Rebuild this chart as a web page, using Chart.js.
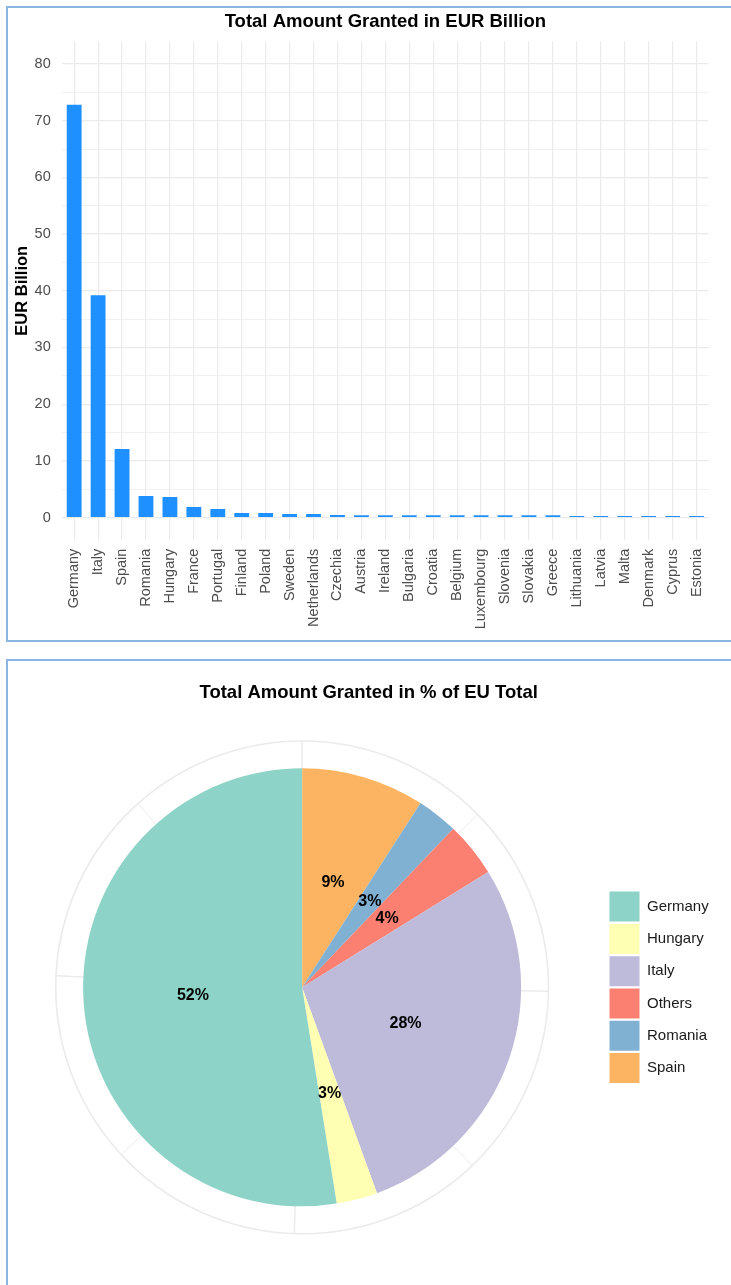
<!DOCTYPE html>
<html>
<head>
<meta charset="utf-8">
<script src="https://cdn.jsdelivr.net/npm/chart.js@4.4.1/dist/chart.umd.min.js"></script>
<style>
    html, body { margin: 0; padding: 0; overflow: hidden; background: #fff; }
    .panel {
        position: absolute;
        left: 6px;
        width: 760px;
        border: 2px solid #8db5e2;
        background: #fff;
        overflow: hidden;
    }
    #bar-panel { top: 6px; height: 632px; }
    #pie-panel { top: 659px; height: 700px; }
    canvas { position: absolute; top: 0; }
    #bar-chart { left: 0; }
    #pie-chart { left: -11px; }
</style>
</head>
<body>
<div class="panel" id="bar-panel"><canvas id="bar-chart" width="723" height="632"></canvas></div>
<div class="panel" id="pie-panel"><canvas id="pie-chart" width="744" height="640"></canvas></div>
<script>
// Amount granted per member state, EUR billion
const countries = ['Germany', 'Italy', 'Spain', 'Romania', 'Hungary', 'France', 'Portugal', 'Finland',
    'Poland', 'Sweden', 'Netherlands', 'Czechia', 'Austria', 'Ireland', 'Bulgaria', 'Croatia', 'Belgium',
    'Luxembourg', 'Slovenia', 'Slovakia', 'Greece', 'Lithuania', 'Latvia', 'Malta', 'Denmark', 'Cyprus', 'Estonia'];
const amounts = [72.8, 39.2, 12.1, 3.8, 3.6, 1.85, 1.5, 0.8, 0.8, 0.6, 0.6, 0.45, 0.4, 0.4, 0.4, 0.4, 0.4,
    0.4, 0.4, 0.4, 0.4, 0.25, 0.25, 0.25, 0.25, 0.25, 0.25];
const yTickLabels = [0, 10, 20, 30, 40, 50, 60, 70, 80];

// Share of EU total, % (slice order clockwise from the top)
const pieGroups = ['Spain', 'Romania', 'Others', 'Italy', 'Hungary', 'Germany'];
const pieShares = [9, 3, 4, 28, 3, 52];
const pieColors = ['#FDB462', '#80B1D3', '#FB8072', '#BEBADA', '#FFFFB3', '#8DD3C7'];

const FONT = "'Liberation Sans', Arial, Helvetica, sans-serif";
const GRID = '#ebebeb';
Chart.defaults.font.family = FONT;

// Bar chart
new Chart(document.getElementById('bar-chart').getContext('2d'), {
    type: 'bar',
    data: {
        labels: countries,
        datasets: [{
            data: amounts,
            backgroundColor: '#1E90FF',
            borderWidth: 0,
            categoryPercentage: 1,
            barPercentage: 0.62
        }]
    },
    options: {
        responsive: false,
        animation: false,
        layout: { padding: { left: 0, right: 22.5, top: 0, bottom: 0 } },
        plugins: {
            legend: { display: false },
            tooltip: { enabled: false },
            title: {
                display: true,
                text: 'Total Amount Granted in EUR Billion',
                fullSize: false,
                color: '#000',
                font: { size: 18.5, weight: 'bold' },
                padding: { top: 2.9, bottom: 8.2 }
            }
        },
        scales: {
            x: {
                offset: true,
                grid: { offset: false, color: GRID, lineWidth: 1.2, drawTicks: false },
                border: { display: false },
                ticks: {
                    autoSkip: false,
                    minRotation: 90,
                    maxRotation: 90,
                    padding: 8.5,
                    color: '#4d4d4d',
                    font: { size: 14.5 }
                },
                afterFit: scale => { scale.height = 99.8; }
            },
            y: {
                min: -4,
                max: 84,
                afterBuildTicks: scale => {
                    // major lines at the labelled values, minor lines halfway between
                    const lines = [];
                    yTickLabels.forEach((v, i) => {
                        lines.push({ value: v });
                        if (i < yTickLabels.length - 1) lines.push({ value: (v + yTickLabels[i + 1]) / 2 });
                    });
                    scale.ticks = lines;
                },
                grid: {
                    color: GRID,
                    drawTicks: false,
                    lineWidth: ctx => (yTickLabels.includes(ctx.tick && ctx.tick.value) ? 1.2 : 0.7)
                },
                border: { display: false },
                ticks: {
                    padding: 11.5,
                    color: '#4d4d4d',
                    font: { size: 14.5 },
                    callback: v => (yTickLabels.includes(v) ? String(v) : '')
                },
                title: {
                    display: true,
                    text: 'EUR Billion',
                    color: '#000',
                    font: { size: 16.5, weight: 'bold' },
                    padding: { top: 4.5, bottom: 0 }
                },
                afterFit: scale => { scale.width = 54.2; }
            }
        }
    }
});

// Polar grid behind the pie: outer ring plus radial lines every 12.5 units
const polarGrid = {
    id: 'polarGrid',
    beforeDatasetsDraw(chart) {
        const arc = chart.getDatasetMeta(0).data[0];
        if (!arc) return;
        const { x, y, outerRadius } = arc;
        const ring = outerRadius * 1.125;
        const total = pieShares.reduce((a, b) => a + b, 0);
        const ctx = chart.ctx;
        ctx.save();
        ctx.strokeStyle = GRID;
        for (let v = 0; v < total; v += 12.5) {
            const a = -Math.PI / 2 + (v / total) * Math.PI * 2;
            ctx.lineWidth = v % 25 === 0 ? 1.5 : 1;
            ctx.beginPath();
            ctx.moveTo(x, y);
            ctx.lineTo(x + Math.cos(a) * ring, y + Math.sin(a) * ring);
            ctx.stroke();
        }
        ctx.lineWidth = 1.6;
        ctx.beginPath();
        ctx.arc(x, y, ring, 0, Math.PI * 2);
        ctx.stroke();
        ctx.restore();
    }
};

// Percent labels at half radius of each slice
const sliceLabels = {
    id: 'sliceLabels',
    afterDatasetsDraw(chart) {
        const ctx = chart.ctx;
        ctx.save();
        ctx.font = `bold 16px ${FONT}`;
        ctx.fillStyle = '#000';
        ctx.textAlign = 'center';
        ctx.textBaseline = 'middle';
        chart.getDatasetMeta(0).data.forEach((arc, i) => {
            const p = arc.getCenterPoint();
            ctx.fillText(`${Math.round(pieShares[i])}%`, p.x, p.y);
        });
        ctx.restore();
    }
};

// Leave empty space to the right of the legend column, so the pie sits left
// of centre while the title stays centred on the whole canvas
const legendGutter = {
    id: 'legendGutter',
    beforeLayout(chart) {
        const legend = chart.legend;
        if (!legend || legend._gutter) return;
        const fit = legend.fit;
        legend.fit = function () {
            fit.call(this);
            this.width += 21.7;
        };
        legend._gutter = true;
    }
};

new Chart(document.getElementById('pie-chart').getContext('2d'), {
    type: 'pie',
    data: {
        labels: pieGroups,
        datasets: [{
            data: pieShares,
            backgroundColor: pieColors,
            borderWidth: 0,
            radius: 219
        }]
    },
    options: {
        responsive: false,
        animation: false,
        layout: { padding: { left: 0, right: 0.6, top: 10, bottom: 46 } },
        plugins: {
            tooltip: { enabled: false },
            title: {
                display: true,
                text: 'Total Amount Granted in % of EU Total',
                color: '#000',
                font: { size: 18.5, weight: 'bold' },
                padding: { top: 10.5, bottom: 16 }
            },
            legend: {
                position: 'right',
                fullSize: false,
                reverse: true,
                labels: {
                    boxWidth: 30,
                    boxHeight: 30,
                    padding: 2.3,
                    color: '#1a1a1a',
                    font: { size: 15 }
                }
            }
        }
    },
    plugins: [polarGrid, sliceLabels, legendGutter]
});
</script>
</body>
</html>
